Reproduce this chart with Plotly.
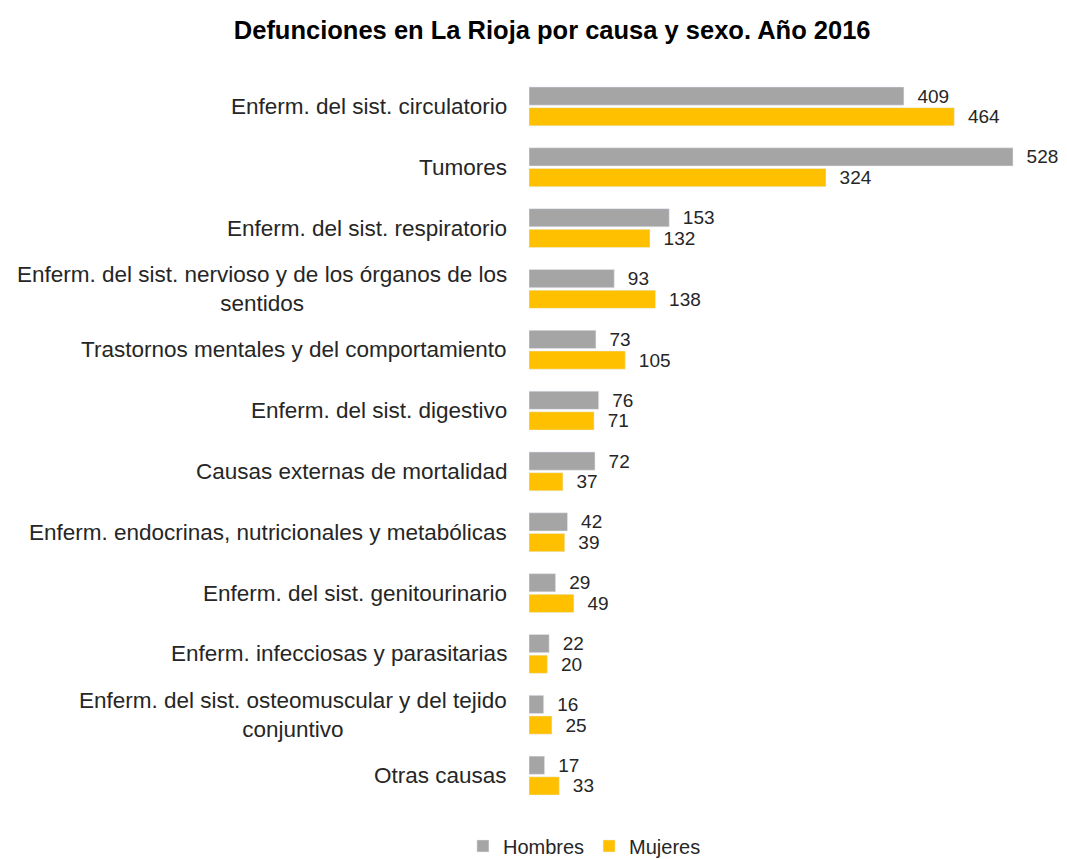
import plotly.graph_objects as go

categories = [
    "Enferm. del sist. circulatorio",
    "Tumores",
    "Enferm. del sist. respiratorio",
    "Enferm. del sist. nervioso y de los órganos de los<br>sentidos",
    "Trastornos mentales y del comportamiento",
    "Enferm. del sist. digestivo",
    "Causas externas de mortalidad",
    "Enferm. endocrinas, nutricionales y metabólicas",
    "Enferm. del sist. genitourinario",
    "Enferm. infecciosas y parasitarias",
    "Enferm. del sist. osteomuscular y del tejido<br>conjuntivo",
    "Otras causas",
]
hombres = [409, 528, 153, 93, 73, 76, 72, 42, 29, 22, 16, 17]
mujeres = [464, 324, 132, 138, 105, 71, 37, 39, 49, 20, 25, 33]

FONT = "Liberation Sans, Arial, Helvetica, sans-serif"
LBL = "\u00a0\u00a0%{x}"

fig = go.Figure()
fig.add_trace(go.Bar(
    y=categories, x=hombres, name="Hombres", orientation="h",
    marker_color="#A5A5A5", texttemplate=LBL, textposition="outside",
    constraintext="none",
    textfont=dict(size=19, color="#262626", family=FONT), cliponaxis=False,
))
fig.add_trace(go.Bar(
    y=categories, x=mujeres, name="Mujeres", orientation="h",
    marker_color="#FFC000", texttemplate=LBL, textposition="outside",
    constraintext="none",
    textfont=dict(size=19, color="#262626", family=FONT), cliponaxis=False,
))

annotations = []
for c in categories:
    annotations.append(dict(
        x=0, y=c, xref="paper", yref="y", text=c, showarrow=False,
        xanchor="right", yanchor="middle", align="center", xshift=-20,
        font=dict(size=22.5, color="#262626", family=FONT),
    ))

fig.update_layout(
    width=1067, height=859,
    paper_bgcolor="white", plot_bgcolor="white",
    margin=dict(l=521, r=18, t=68, b=61, autoexpand=False),
    title=dict(text="<b>Defunciones en La Rioja por causa y sexo. Año 2016</b>",
               x=0.51, xanchor="center", y=1 - 22 / 859, yanchor="middle",
               font=dict(size=25.5, color="#000000", family=FONT)),
    barmode="group", bargap=0.32, bargroupgap=0.12,
    xaxis=dict(range=[0, 576], visible=False, showgrid=False, zeroline=False),
    yaxis=dict(autorange="reversed", showticklabels=False, showgrid=False,
               zeroline=False, showline=False, ticks=""),
    legend=dict(orientation="h", x=0.105, xanchor="center", y=-0.028, yanchor="top",
                font=dict(size=20, color="#262626", family=FONT),
                traceorder="normal", itemwidth=30),
    annotations=annotations,
    showlegend=True,
)

fig.write_html("out.html")
